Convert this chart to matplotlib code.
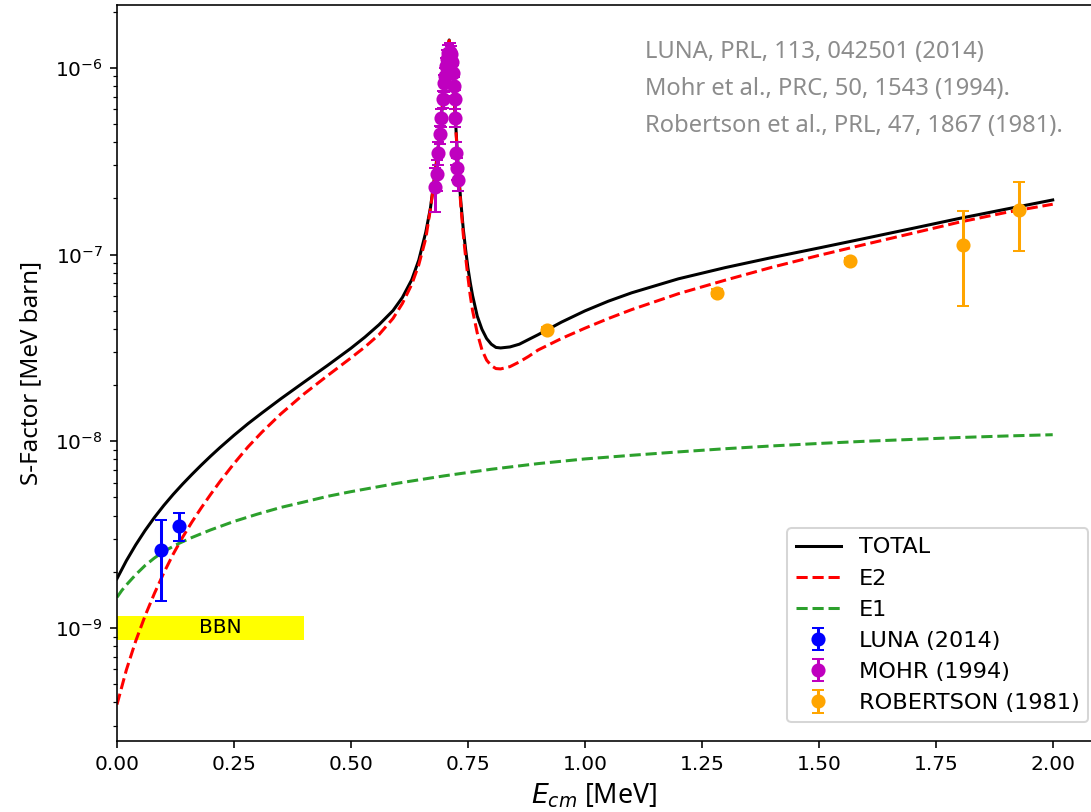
import matplotlib
matplotlib.use("Agg")
import matplotlib.pyplot as plt

# ---- model curves ----
energy = [0.00, 0.02, 0.04, 0.06, 0.08, 0.10, 0.12, 0.14, 0.16, 0.18, 0.20, 0.22,
          0.25, 0.28, 0.31, 0.35, 0.40, 0.45, 0.50, 0.53, 0.56, 0.59, 0.61, 0.63,
          0.645, 0.66, 0.67, 0.68, 0.69, 0.70, 0.705, 0.71, 0.715, 0.72, 0.725,
          0.73, 0.735, 0.74, 0.745, 0.75, 0.755, 0.76, 0.77, 0.78, 0.79, 0.80,
          0.81, 0.82, 0.84, 0.86, 0.88, 0.90, 0.95, 1.00, 1.05, 1.10, 1.20, 1.30,
          1.40, 1.50, 1.60, 1.70, 1.80, 1.90, 2.00]
s_total = [1.837e-9, 2.291e-9, 2.786e-9, 3.327e-9, 3.908e-9, 4.529e-9,
           5.188e-9, 5.888e-9, 6.637e-9, 7.447e-9, 8.318e-9, 9.247e-9,
           1.076e-8, 1.242e-8, 1.419e-8, 1.687e-8, 2.075e-8, 2.547e-8,
           3.148e-8, 3.614e-8, 4.207e-8, 5.012e-8, 5.888e-8, 7.328e-8,
           9.333e-8, 1.318e-7, 1.778e-7, 2.754e-7, 4.47e-7, 8.32e-7, 1.175e-6,
           1.41e-6, 1.175e-6, 7.59e-7, 4.47e-7, 2.75e-7, 1.905e-7, 1.38e-7,
           1.07e-7, 8.51e-8, 7.08e-8, 6.03e-8, 4.68e-8, 3.98e-8, 3.55e-8,
           3.31e-8, 3.18e-8, 3.16e-8, 3.2e-8, 3.31e-8, 3.51e-8, 3.72e-8,
           4.345e-8, 4.989e-8, 5.623e-8, 6.237e-8, 7.413e-8, 8.511e-8,
           9.638e-8, 1.084e-7, 1.222e-7, 1.38e-7, 1.56e-7, 1.75e-7, 1.96e-7]
s_e2 = [3.89e-10, 5.957e-10, 8.51e-10, 1.161e-9, 1.531e-9, 1.972e-9, 2.483e-9,
        3.055e-9, 3.690e-9, 4.395e-9, 5.188e-9, 6.081e-9, 7.59e-9, 9.33e-9,
        1.12e-8, 1.400e-8, 1.795e-8, 2.246e-8, 2.795e-8, 3.199e-8, 3.724e-8,
        4.550e-8, 5.470e-8, 6.92e-8, 8.81e-8, 1.22e-7, 1.76e-7, 2.69e-7,
        4.37e-7, 8.22e-7, 1.16e-6, 1.40e-6, 1.16e-6, 7.5e-7, 4.37e-7, 2.66e-7,
        1.82e-7, 1.29e-7, 9.77e-8, 7.59e-8, 6.03e-8, 5.01e-8, 3.8e-8, 3.09e-8,
        2.72e-8, 2.54e-8, 2.45e-8, 2.44e-8, 2.51e-8, 2.66e-8, 2.85e-8, 3.08e-8,
        3.55e-8, 4.03e-8, 4.54e-8, 5.07e-8, 6.17e-8, 7.29e-8, 8.55e-8, 9.89e-8,
        1.135e-7, 1.30e-7, 1.49e-7, 1.68e-7, 1.86e-7]
energy_e1 = [0.00, 0.01, 0.02, 0.04, 0.06, 0.08, 0.10, 0.13, 0.16, 0.20, 0.25,
             0.30, 0.35, 0.40, 0.45, 0.50, 0.60, 0.70, 0.80, 0.90, 1.00, 1.10,
             1.20, 1.30, 1.40, 1.50, 1.60, 1.70, 1.80, 1.90, 2.00]
s_e1 = [1.459e-9, 1.585e-9, 1.70e-9, 1.93e-9, 2.16e-9, 2.37e-9, 2.57e-9,
        2.82e-9, 3.05e-9, 3.35e-9, 3.72e-9, 4.07e-9, 4.42e-9, 4.73e-9, 5.07e-9,
        5.37e-9, 5.96e-9, 6.53e-9, 7.08e-9, 7.59e-9, 8.04e-9, 8.41e-9, 8.77e-9,
        9.12e-9, 9.44e-9, 9.73e-9, 1.0e-8, 1.023e-8, 1.047e-8, 1.067e-8,
        1.084e-8]

# ---- data points ----
luna_e = [0.093, 0.133]
luna_s = [2.63e-9, 3.53e-9]
luna_lo = [1.23e-9, 0.62e-9]
luna_hi = [1.17e-9, 0.60e-9]

mohr_e = [0.680, 0.683, 0.686, 0.690, 0.693, 0.696, 0.699, 0.701, 0.703, 0.706,
          0.708, 0.711, 0.714, 0.716, 0.718, 0.720, 0.722, 0.723, 0.725, 0.727,
          0.729]
mohr_s = [2.3e-7, 2.7e-7, 3.5e-7, 4.4e-7, 5.4e-7, 6.8e-7, 8.3e-7, 9.0e-7,
          1.02e-6, 1.12e-6, 1.2e-6, 1.22e-6, 1.18e-6, 1.08e-6, 9.4e-7, 8.0e-7,
          6.8e-7, 5.4e-7, 3.5e-7, 2.9e-7, 2.5e-7]
mohr_err = [0.6e-7, 0.5e-7, 0.5e-7, 0.5e-7, 0.6e-7, 0.7e-7, 0.9e-7, 1.0e-7,
            1.1e-7, 1.2e-7, 1.3e-7, 1.3e-7, 1.3e-7, 1.2e-7, 1.0e-7, 0.9e-7,
            0.8e-7, 0.6e-7, 0.5e-7, 0.4e-7, 0.3e-7]

rob_e = [0.919, 1.283, 1.566, 1.809, 1.928]
rob_s = [3.95e-8, 6.25e-8, 9.27e-8, 1.13e-7, 1.74e-7]
rob_lo = [1.5e-9, 2.5e-9, 3.5e-9, 6.03e-8, 6.9e-8]
rob_hi = [1.5e-9, 2.5e-9, 3.5e-9, 5.9e-8, 7.2e-8]

bbn_range = [0.0, 0.4]
bbn_band = [0.86e-9, 1.16e-9]

refs = ["LUNA, PRL, 113, 042501 (2014)",
        "Mohr et al., PRC, 50, 1543 (1994).",
        "Robertson et al., PRL, 47, 1867 (1981)."]

W, H, DPI = 1091, 812, 145
fig = plt.figure(figsize=(W / DPI, H / DPI), dpi=DPI)
ax = fig.add_axes([117 / W, (H - 740.7) / H, (1099.5 - 117) / W, (740.7 - 5) / H])

ax.fill_between(bbn_range, bbn_band[0], bbn_band[1], color='yellow', lw=0)
ax.text(0.22, 1.0e-9, "BBN", ha='center', va='center', fontsize=10)

ax.plot(energy, s_total, 'k-', lw=1.5, label='TOTAL')
ax.plot(energy, s_e2, 'r--', lw=1.5, label='E2')
ax.plot(energy_e1, s_e1, '--', color='tab:green', lw=1.5, label='E1')

ax.errorbar(luna_e, luna_s, yerr=[luna_lo, luna_hi], fmt='o', color='b',
            capsize=3, label='LUNA (2014)')
ax.errorbar(mohr_e, mohr_s, yerr=mohr_err, fmt='o', color='m',
            capsize=3, label='MOHR (1994)')
ax.errorbar(rob_e, rob_s, yerr=[rob_lo, rob_hi], fmt='o', color='orange',
            capsize=3, label='ROBERTSON (1981)')

ax.set_yscale('log')
ax.set_xlim(0, 2.1)
ax.set_ylim(2.49e-10, 2.17e-6)
ax.set_xticks([0, 0.25, 0.5, 0.75, 1.0, 1.25, 1.5, 1.75, 2.0])
ax.set_xlabel(r"$E_{cm}$ [MeV]", family='Noto Sans', fontsize=13.3)
ax.xaxis.set_label_coords(0.486, -0.056)
ax.set_ylabel("S-Factor [MeV barn]", family='Noto Sans', fontsize=12)
ax.yaxis.set_label_coords(-0.075, 0.5)
ax.legend(loc='lower right', fontsize=11.1, bbox_to_anchor=(1.0, 0.01))

for i, t in enumerate(refs):
    fig.text(645 / W, 1 - (52 + 37 * i) / H, t, ha='left', va='center',
             family='Noto Sans', fontsize=11.8, color='#8c8c8c')

fig.savefig("out.png", dpi=DPI)
